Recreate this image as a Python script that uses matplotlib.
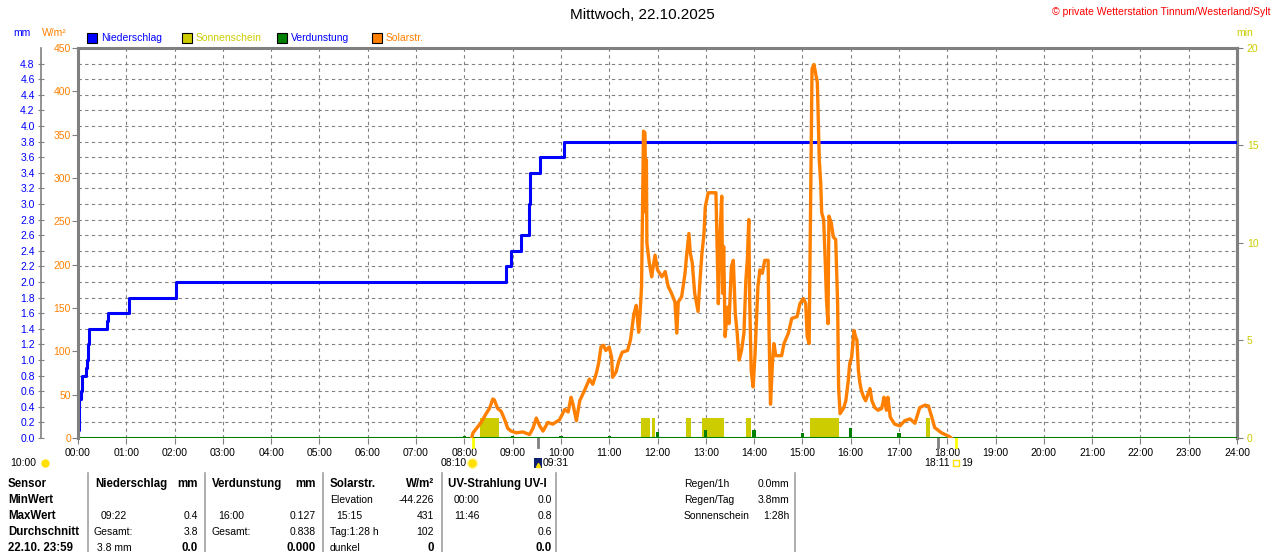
import numpy as np
import matplotlib.pyplot as plt
from matplotlib.patches import Rectangle
from matplotlib.lines import Line2D

plt.rcParams['font.family'] = ['Liberation Sans', 'DejaVu Sans']

# ---- data ----
hours = list(range(25))
hour_labels = [f"{h:02d}:00" for h in hours]

# cumulative precipitation (mm), step after each time
rain_t = [0.0, 0.005, 0.03, 0.055, 0.083, 0.165, 0.19, 0.21, 0.23, 0.61, 0.63, 1.06, 2.03,
          8.87, 8.96, 9.18, 9.33, 9.37, 9.56, 10.06, 24.0]
rain_mm = [0.0, 0.1, 0.5, 0.6, 0.8, 0.9, 1.0, 1.2, 1.4, 1.5, 1.6, 1.8, 2.0,
           2.2, 2.4, 2.6, 3.0, 3.4, 3.6, 3.8, 3.8]

# solar radiation (W/m2)
solar_t = [8.15, 8.18, 8.28, 8.35, 8.45, 8.52, 8.59, 8.62, 8.69, 8.76, 8.83, 8.90, 8.97, 9.07,
           9.21, 9.35, 9.42, 9.49, 9.56, 9.63, 9.73, 9.83, 9.97, 10.08, 10.15, 10.21, 10.25,
           10.32, 10.39, 10.49, 10.59, 10.66, 10.73, 10.78, 10.83, 10.88, 10.93, 11.00, 11.05,
           11.07, 11.14, 11.20, 11.27, 11.38, 11.44, 11.51, 11.56, 11.61, 11.64, 11.67, 11.69,
           11.71, 11.74, 11.76, 11.77, 11.78, 11.83, 11.88, 11.91, 11.95, 12.00, 12.09, 12.16,
           12.22, 12.29, 12.36, 12.40, 12.43, 12.50, 12.57, 12.60, 12.65, 12.68, 12.72, 12.77,
           12.84, 12.88, 12.92, 12.96, 12.99, 13.05, 13.21, 13.26, 13.29, 13.33, 13.35, 13.37,
           13.40, 13.45, 13.48, 13.53, 13.57, 13.61, 13.65, 13.69, 13.74, 13.79, 13.83, 13.86,
           13.89, 13.91, 13.94, 13.98, 14.02, 14.05, 14.08, 14.12, 14.17, 14.22, 14.29, 14.31,
           14.34, 14.38, 14.41, 14.45, 14.57, 14.62, 14.71, 14.78, 14.89, 14.95, 15.02, 15.07,
           15.10, 15.14, 15.17, 15.20, 15.24, 15.27, 15.31, 15.33, 15.35, 15.38, 15.40, 15.44,
           15.47, 15.50, 15.53, 15.55, 15.60, 15.64, 15.69, 15.73, 15.75, 15.78, 15.85, 15.90,
           15.95, 15.98, 16.02, 16.07, 16.10, 16.13, 16.16, 16.19, 16.22, 16.27, 16.31, 16.36,
           16.40, 16.44, 16.50, 16.57, 16.64, 16.67, 16.69, 16.74, 16.77, 16.82, 16.91, 17.02,
           17.12, 17.23, 17.33, 17.43, 17.54, 17.61, 17.68, 17.74, 17.88, 18.05, 18.08]
solar_w = [0, 6, 13, 18, 28, 34, 45, 44, 34, 31, 22, 11, 8, 6,
           7, 4, 11, 23, 14, 8, 18, 16, 21, 33, 30, 47, 39,
           20, 43, 55, 68, 62, 74, 86, 105, 107, 101, 105, 93,
           70, 76, 89, 99, 101, 113, 143, 153, 122, 145, 175, 267,
           354, 352, 260, 321, 225, 202, 186, 198, 211, 194, 186, 192,
           175, 167, 157, 121, 157, 163, 190, 209, 236, 213, 202, 167,
           146, 182, 213, 234, 267, 283, 283, 155, 229, 279, 167, 221,
           117, 151, 132, 198, 205, 144, 121, 90, 101, 121, 182, 205,
           252, 155, 78, 59, 97, 136, 175, 194, 190, 205, 205, 121,
           39, 86, 109, 95, 95, 109, 121, 138, 140, 155, 161, 155,
           117, 109, 271, 426, 431, 422, 410, 364, 321, 294, 260, 252,
           209, 159, 132, 256, 248, 232, 229, 155, 59, 28, 34, 43,
           66, 86, 93, 124, 117, 113, 78, 64, 55, 47, 43, 51,
           57, 43, 35, 32, 34, 41, 47, 32, 47, 24, 16, 14,
           20, 22, 17, 35, 38, 37, 24, 12, 6, 1.5, 0]

# sunshine (min), intervals start/end
sun_start = [8.32, 11.66, 11.89, 12.60, 12.92, 13.83, 15.15, 17.56]
sun_end = [8.72, 11.85, 11.95, 12.70, 13.37, 13.93, 15.75, 17.64]
sun_min = [1.05, 1.05, 1.05, 1.05, 1.05, 1.05, 1.05, 1.05]

# evaporation (mm) per hour
evap_h = list(range(1, 24))
evap_mm = [0.015, 0.015, 0.015, 0.015, 0.015, 0.015, 0.015, 0.02, 0.02, 0.02, 0.02,
           0.08, 0.10, 0.10, 0.07, 0.127, 0.06, 0.03, 0.015, 0.015, 0.015, 0.015, 0.015]

mm_ticks = np.round(np.arange(0, 4.81, 0.2), 1)
w_ticks = list(range(0, 451, 50))
min_ticks = [0, 5, 10, 15, 20]

BLUE = '#0000FF'
ORANGE = '#FF8000'
OLIVE = '#CCCC00'
GREEN = '#008000'
GRAY = '#808080'
FS = 7.5
FSB = 8.3

W, H = 1280, 552
fig = plt.figure(figsize=(12.8, 5.52), dpi=100)


def fx(px):
    return px / W


def fy(py):
    return 1 - py / H


L, R, T, B = 78, 1237, 48, 438
ax = fig.add_axes([fx(L), fy(B), (R - L) / W, (B - T) / H])
ax_min = ax.twinx()
ax_ev = ax.twinx()
ax_w = ax.twinx()

# base: mm axis + grid
ax.set_xlim(0, 24)
ax.set_ylim(0, 5.0)
ax.set_yticks(mm_ticks)
ax.set_yticklabels([f"{v:.1f}" for v in mm_ticks])
ax.spines['left'].set_position(('axes', -37 / (R - L)))
ax.spines['left'].set_color(GRAY)
ax.spines['left'].set_linewidth(1.2)
ax.spines['bottom'].set_visible(False)
for s in ('top', 'right'):
    ax.spines[s].set_color(GRAY)
    ax.spines[s].set_linewidth(2.2)
ax.tick_params(axis='y', direction='inout', length=5, color=GRAY, pad=2,
               labelsize=FS, labelcolor=BLUE)
ax.set_xticks(hours)
ax.set_xticklabels(hour_labels)
ax.tick_params(axis='x', length=4, color=GRAY, pad=3.5, labelsize=FS)
ax.grid(True, color=GRAY, linestyle=(0, (3, 3)), linewidth=0.8)
ax.set_axisbelow(True)

# sunshine bars (min)
ax_min.set_ylim(0, 20)
ax_min.bar(sun_start, sun_min, width=np.array(sun_end) - np.array(sun_start),
           align='edge', color=OLIVE, linewidth=0)
ax_min.set_yticks(min_ticks)
ax_min.set_yticklabels([str(v) for v in min_ticks])
ax_min.tick_params(axis='y', length=4, color=GRAY, pad=3, labelsize=FS, labelcolor=OLIVE)
for s in ('left', 'top', 'bottom'):
    ax_min.spines[s].set_visible(False)
ax_min.spines['right'].set_color(GRAY)
ax_min.spines['right'].set_linewidth(2.2)

# rain + evaporation (mm)
ax_ev.set_ylim(0, 5.0)
ax_ev.set_yticks([])
for s in ax_ev.spines.values():
    s.set_visible(False)
ax_ev.plot([0, 24], [0, 0], color=GREEN, linewidth=1.5, solid_capstyle='butt')
ax_ev.bar(evap_h, evap_mm, width=0.07, color=GREEN, linewidth=0)
ax_ev.step(rain_t, rain_mm, where='post', color=BLUE, linewidth=2.2)

# solar (W/m2) on left frame
ax_w.set_ylim(0, 450)
ax_w.yaxis.tick_left()
ax_w.set_yticks(w_ticks)
ax_w.set_yticklabels([str(v) for v in w_ticks])
ax_w.tick_params(axis='y', length=4, color=GRAY, pad=1, labelsize=FS, labelcolor=ORANGE)
for s in ('right', 'top', 'bottom'):
    ax_w.spines[s].set_visible(False)
ax_w.spines['left'].set_color(GRAY)
ax_w.spines['left'].set_linewidth(2.2)
ax_w.plot(solar_t, solar_w, color=ORANGE, linewidth=2.4)

# event ticks below the axis
xt = ax.get_xaxis_transform()
for t, c in [(8.17, '#FFFF00'), (18.18, '#FFFF00'), (9.52, GRAY), (17.8, GRAY)]:
    ax.plot([t, t], [0, -0.024], transform=xt, color=c, linewidth=2, clip_on=False)

# header texts
fig.text(fx(642), fy(15), "Mittwoch, 22.10.2025", ha='center', va='center', fontsize=11)
fig.text(fx(1270), fy(12), "© private Wetterstation Tinnum/Westerland/Sylt", ha='right',
         va='center', fontsize=FS, color='#FF0000')
fig.text(fx(22), fy(33), "mm", ha='center', va='center', fontsize=FS, color=BLUE)
fig.text(fx(54), fy(33), "W/m²", ha='center', va='center', fontsize=FS, color=ORANGE)
fig.text(fx(1245), fy(33), "min", ha='center', va='center', fontsize=FS, color=OLIVE)

# legend
legend = [(87, BLUE, "Niederschlag", BLUE), (182, OLIVE, "Sonnenschein", OLIVE),
          (277, GREEN, "Verdunstung", BLUE), (372, ORANGE, "Solarstr.", ORANGE)]
for x0, fc, label, tc in legend:
    fig.patches.append(Rectangle((fx(x0), fy(43)), 10 / W, 10 / H, transform=fig.transFigure,
                                 facecolor=fc, edgecolor='black', linewidth=0.8))
    fig.text(fx(x0 + 14), fy(38), label, ha='left', va='center', fontsize=FS, color=tc)

# sun / moon rise and set labels
fig.text(fx(10), fy(463), "10:00", ha='left', va='center', fontsize=FS)
fig.text(fx(467), fy(463), "08:10", ha='right', va='center', fontsize=FS)
fig.text(fx(543), fy(463), "09:31", ha='left', va='center', fontsize=FS)
fig.text(fx(950), fy(463), "18:11", ha='right', va='center', fontsize=FS)
fig.text(fx(961), fy(463), "19", ha='left', va='center', fontsize=FS)
fig.add_artist(Line2D([fx(45)], [fy(463)], marker='o', color='#FFE000', markersize=5))
fig.add_artist(Line2D([fx(472)], [fy(463)], marker='o', color='#FFE000', markersize=7,
                      markeredgecolor='#FFF8A0'))
fig.patches.append(Rectangle((fx(534), fy(468)), 8 / W, 10 / H, transform=fig.transFigure,
                             facecolor='#102070', edgecolor='none'))
fig.add_artist(Line2D([fx(538)], [fy(465)], marker='^', color='#FFE000', markersize=3))
fig.add_artist(Line2D([fx(956)], [fy(463)], marker='s', markerfacecolor='none',
                      markeredgecolor='#FFE000', markersize=4))

# data table at the bottom
for xs in (88, 205, 323, 442, 556, 795):
    fig.add_artist(Line2D([fx(xs), fx(xs)], [fy(473), fy(552)], color='#A0A0A0', linewidth=1.2))

rows_y = [484, 500, 516, 532, 548]
left_col = ["Sensor", "MinWert", "MaxWert", "Durchschnitt", "22.10. 23:59"]
for y, s in zip(rows_y, left_col):
    fig.text(fx(8), fy(y), s, ha='left', va='center', fontsize=FSB, fontweight='bold')

cells = [
    # (x, row, text, align, bold)
    (95, 0, "Niederschlag", 'left', True), (198, 0, "mm", 'right', True),
    (101, 2, "09:22", 'left', False), (198, 2, "0.4", 'right', False),
    (94, 3, "Gesamt:", 'left', False), (198, 3, "3.8", 'right', False),
    (97, 4, "3.8 mm", 'left', False), (198, 4, "0.0", 'right', True),
    (212, 0, "Verdunstung", 'left', True), (316, 0, "mm", 'right', True),
    (218, 2, "16:00", 'left', False), (316, 2, "0.127", 'right', False),
    (212, 3, "Gesamt:", 'left', False), (316, 3, "0.838", 'right', False),
    (316, 4, "0.000", 'right', True),
    (330, 0, "Solarstr.", 'left', True), (434, 0, "W/m²", 'right', True),
    (330, 1, "Elevation", 'left', False), (434, 1, "-44.226", 'right', False),
    (336, 2, "15:15", 'left', False), (434, 2, "431", 'right', False),
    (330, 3, "Tag:1:28 h", 'left', False), (434, 3, "102", 'right', False),
    (330, 4, "dunkel", 'left', False), (434, 4, "0", 'right', True),
    (448, 0, "UV-Strahlung UV-I", 'left', True),
    (454, 1, "00:00", 'left', False), (552, 1, "0.0", 'right', False),
    (454, 2, "11:46", 'left', False), (552, 2, "0.8", 'right', False),
    (552, 3, "0.6", 'right', False), (552, 4, "0.0", 'right', True),
    (684, 0, "Regen/1h", 'left', False), (789, 0, "0.0mm", 'right', False),
    (684, 1, "Regen/Tag", 'left', False), (789, 1, "3.8mm", 'right', False),
    (684, 2, "Sonnenschein", 'left', False), (789, 2, "1:28h", 'right', False),
]
for x, r, s, ha, bold in cells:
    fig.text(fx(x), fy(rows_y[r]), s, ha=ha, va='center',
             fontsize=FSB if bold else FS, fontweight='bold' if bold else 'normal')

fig.savefig("out.png", dpi=100)
plt.close(fig)
